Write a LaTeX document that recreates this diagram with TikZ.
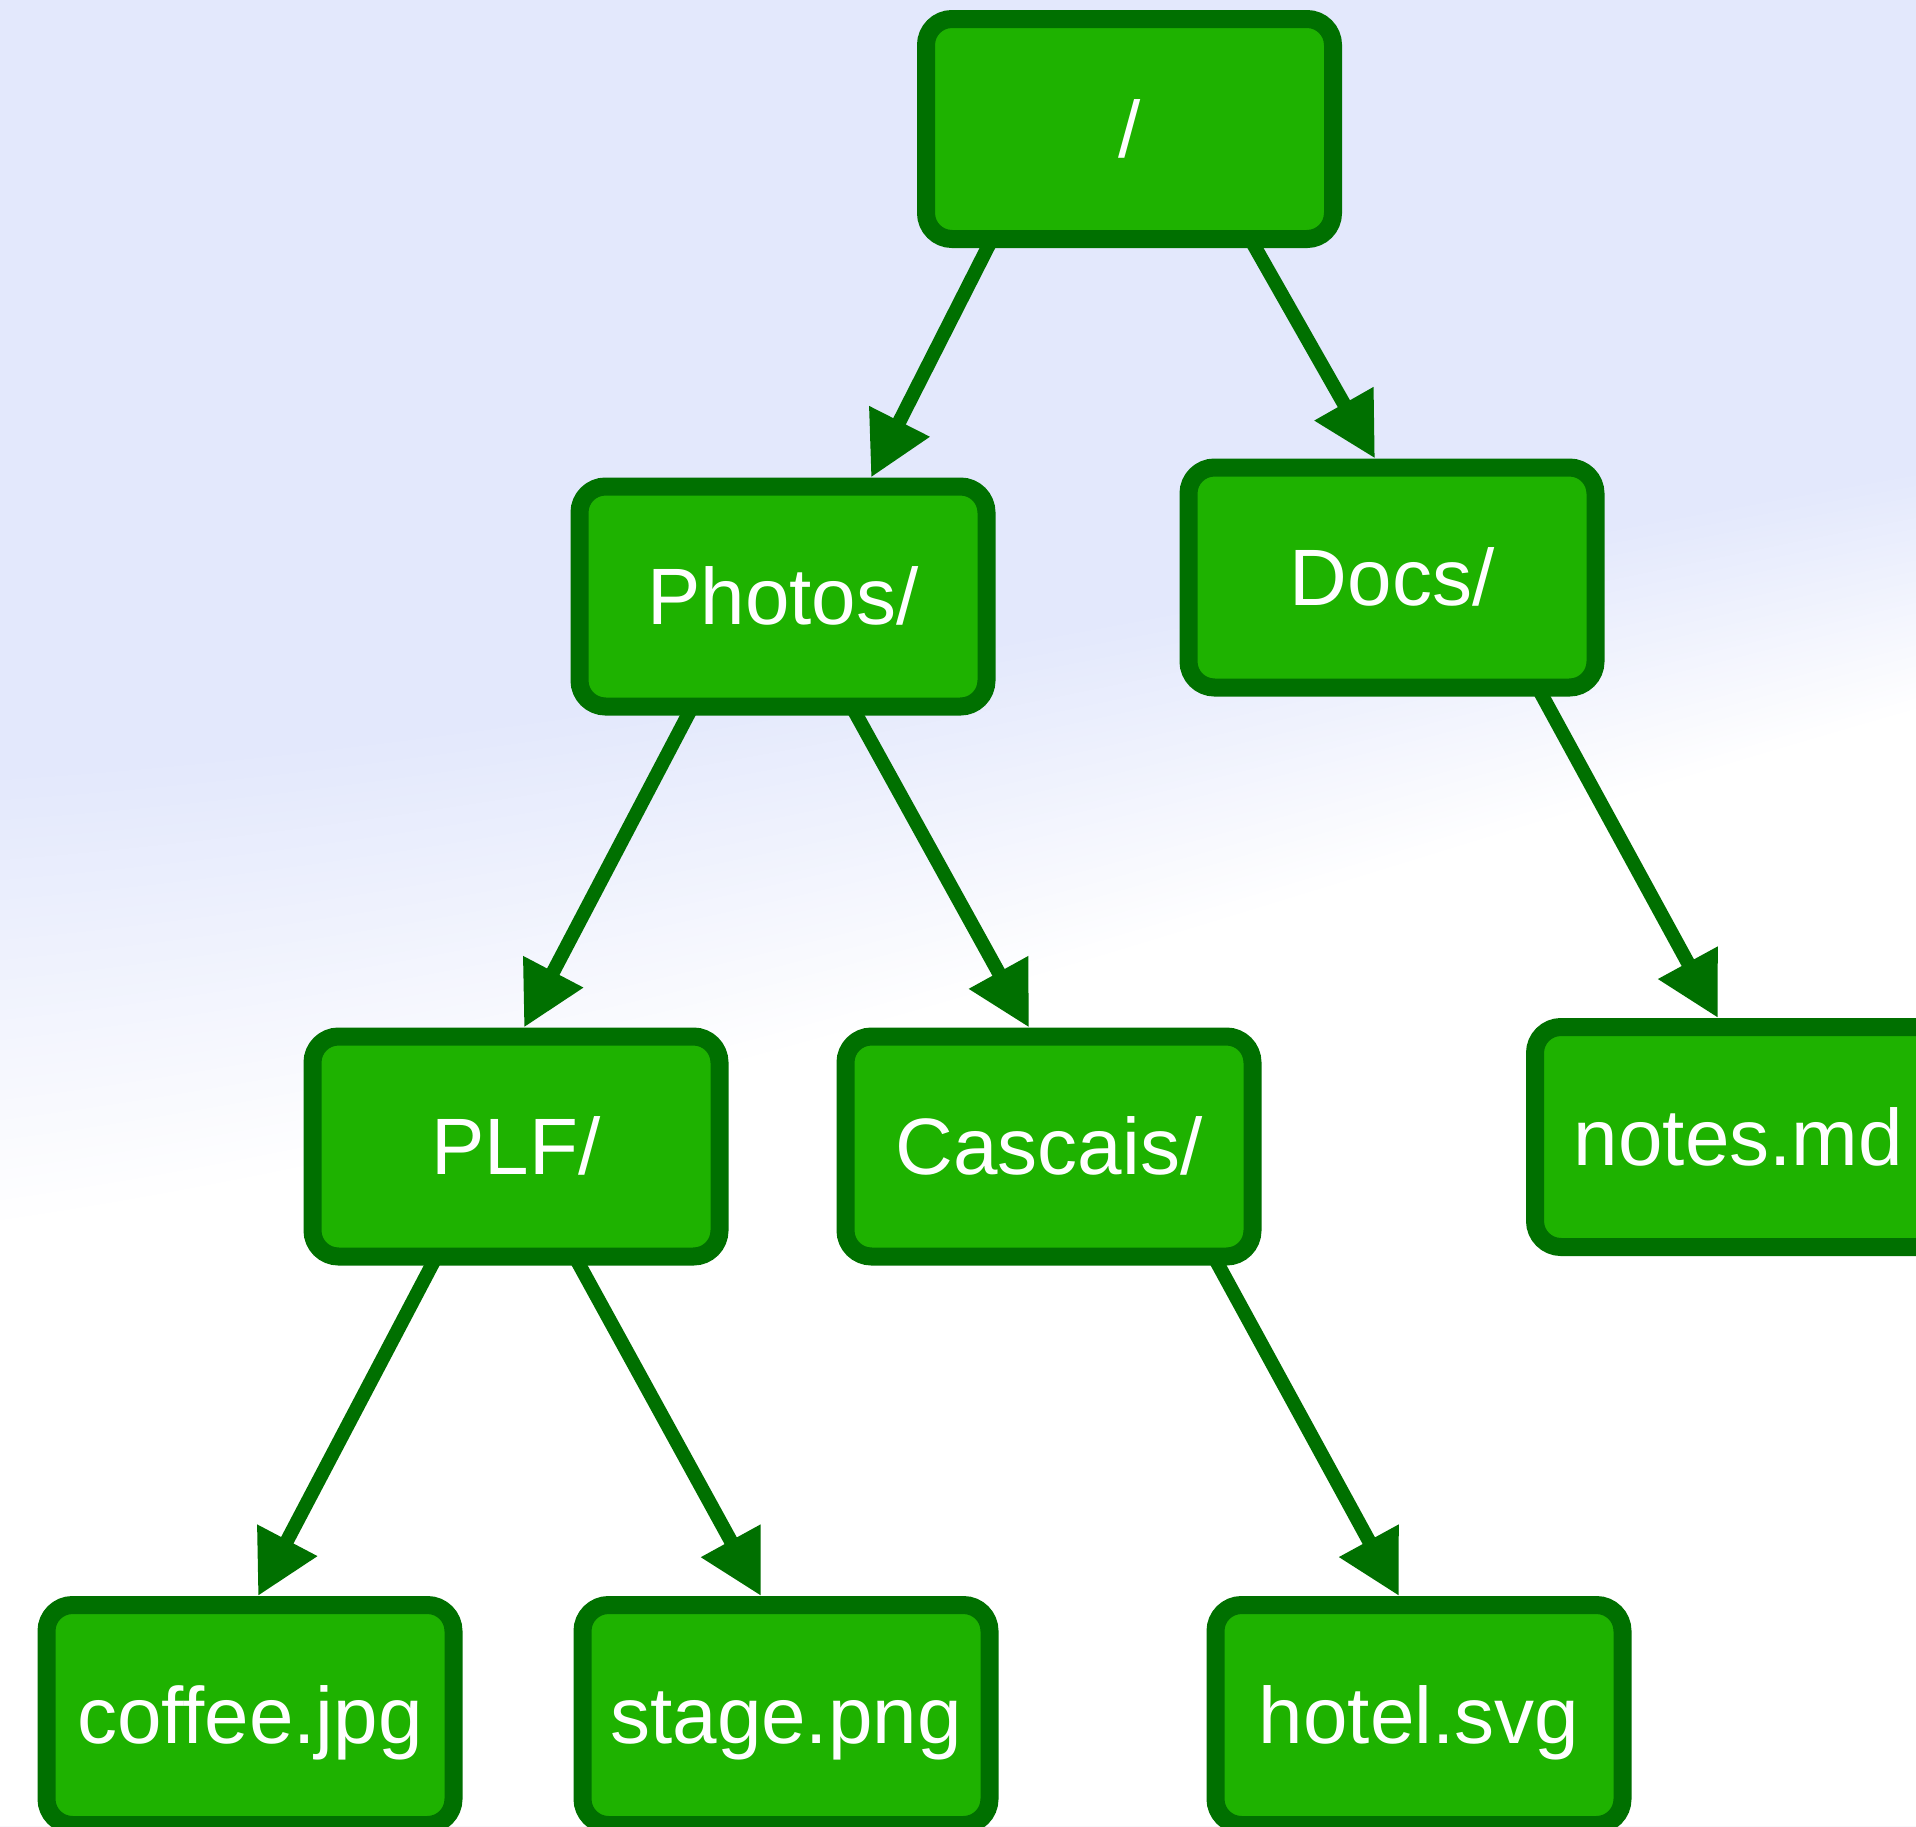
\documentclass[tikz,border=0pt]{standalone}
\usepackage{fontspec}
\setmainfont{Liberation Sans}
\usetikzlibrary{arrows.meta}
\definecolor{bgtop}{HTML}{E3E8FC}
\definecolor{boxfill}{HTML}{1EB200}
\definecolor{boxborder}{HTML}{007000}
\pgfdeclarelayer{bglayer}
\pgfdeclarelayer{edgelayer}
\pgfsetlayers{bglayer,edgelayer,main}
\tikzset{
  nodebox/.style={draw=boxborder, fill=boxfill, line width=18pt, rounded corners=26pt,
    minimum width=407pt, minimum height=220pt, inner sep=0pt, text=white,
    font=\fontsize{80}{96}\selectfont, text height=56pt, text depth=0pt},
  link/.style={draw=boxborder, line width=14pt, -{Triangle[length=63pt,width=64pt]}}
}
\begin{document}
\begin{tikzpicture}[x=1pt,y=-1pt]
\useasboundingbox (0,0) rectangle (1916,1826);
% background
\begin{pgfonlayer}{bglayer}
\fill[bgtop] (0,0) rectangle (1916,1826);
\foreach \k in {1,...,45}{
  \pgfmathsetmacro\p{100*\k/45}
  \fill[white!\p!bgtop]
    (0,{770+10*\k}) .. controls (640,{730+8.8*\k}) and (1280,{580+6.9*\k}) .. (1916,{470+5.3*\k})
    -- (1916,1826) -- (0,1826) -- cycle;
}
\end{pgfonlayer}
% nodes
\node[nodebox] (root) at (1129.5,129) {/};
\node[nodebox] (photos) at (783,596.5) {Photos/};
\node[nodebox] (docs) at (1392,577.5) {Docs/};
\node[nodebox] (plf) at (516,1146.5) {PLF/};
\node[nodebox] (cascais) at (1049,1146.5) {Cascais/};
\node[nodebox] (notes) at (1738.5,1137) {notes.md};
\node[nodebox] (coffee) at (250,1715) {coffee.jpg};
\node[nodebox] (stage) at (786,1715) {stage.png};
\node[nodebox] (hotel) at (1419,1715) {hotel.svg};
% edges
\begin{pgfonlayer}{edgelayer}
\draw[link] ([xshift=-135pt,yshift=14pt]root.south) -- ([xshift=88pt]photos.north);
\draw[link] ([xshift=118pt,yshift=14pt]root.south) -- ([xshift=-17pt]docs.north);
\draw[link] ([xshift=-88pt,yshift=14pt]photos.south) -- ([xshift=8pt]plf.north);
\draw[link] ([xshift=66pt,yshift=14pt]photos.south) -- ([xshift=-20pt]cascais.north);
\draw[link] ([xshift=143pt,yshift=14pt]docs.south) -- ([xshift=-20.5pt]notes.north);
\draw[link] ([xshift=-77pt,yshift=14pt]plf.south) -- ([xshift=8pt]coffee.north);
\draw[link] ([xshift=56pt,yshift=14pt]plf.south) -- ([xshift=-25pt]stage.north);
\draw[link] ([xshift=162pt,yshift=14pt]cascais.south) -- ([xshift=-20pt]hotel.north);
\end{pgfonlayer}
\end{tikzpicture}
\end{document}
